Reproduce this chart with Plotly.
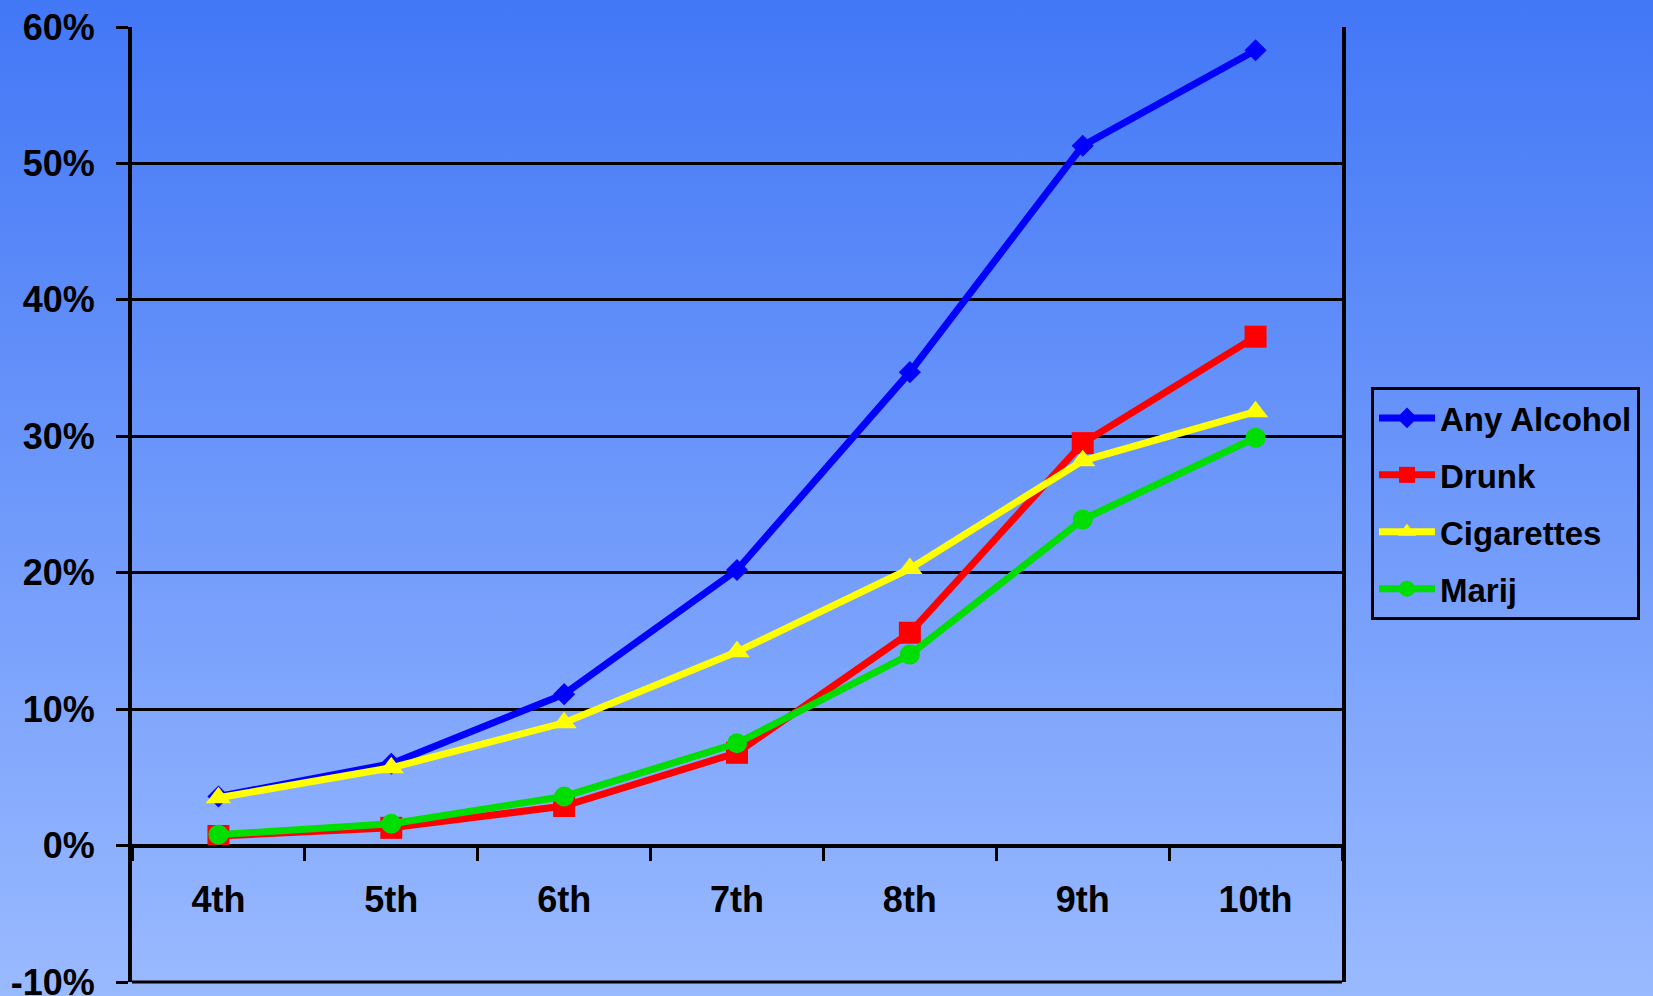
import base64
import plotly.graph_objects as go

grades = ["4th", "5th", "6th", "7th", "8th", "9th", "10th"]
any_alcohol = [3.6, 6.0, 11.1, 20.2, 34.7, 51.3, 58.3]
drunk = [0.7, 1.3, 2.9, 6.8, 15.6, 29.5, 37.3]
cigarettes = [3.5, 5.7, 9.0, 14.2, 20.3, 28.2, 31.8]
marij = [0.8, 1.6, 3.6, 7.5, 14.0, 23.9, 29.9]

y_tick_vals = [-10, 0, 10, 20, 30, 40, 50, 60]
y_tick_text = ["-10%", "0%", "10%", "20%", "30%", "40%", "50%", "60%"]

W, H = 1653, 996
ML, MR, MT, MB = 132, 311, 27, 14
PW, PH = W - ML - MR, H - MT - MB

FONT = "Arial, 'Liberation Sans', sans-serif"

series = [
    ("Any Alcohol", any_alcohol, "#0000ff", "diamond", 17),
    ("Drunk", drunk, "#ff0000", "square", 22),
    ("Cigarettes", cigarettes, "#ffff00", "triangle-up", 22),
    ("Marij", marij, "#00dd00", "circle", 20),
]

fig = go.Figure()
for i, (name, vals, col, sym, sz) in enumerate(series):
    fig.add_trace(go.Scatter(
        x=grades, y=vals, name=name, mode="lines+markers",
        legendgroup=f"g{i}",
        line=dict(color=col, width=7),
        marker=dict(color=col, symbol=sym, size=sz, line=dict(width=0)),
    ))

svg = (
    f'<svg xmlns="http://www.w3.org/2000/svg" width="{W}" height="{H}" '
    f'viewBox="0 0 {W} {H}" preserveAspectRatio="none">'
    '<defs><linearGradient id="g" x1="0" y1="0" x2="0" y2="1">'
    '<stop offset="0" stop-color="#4277f6"/>'
    '<stop offset="1" stop-color="#9abaff"/>'
    '</linearGradient></defs>'
    f'<rect x="0" y="0" width="{W}" height="{H}" fill="url(#g)"/></svg>'
)
uri = "data:image/svg+xml;base64," + base64.b64encode(svg.encode()).decode()

fig.add_layout_image(dict(
    source=uri, xref="paper", yref="paper",
    x=-ML / PW, y=1 + MT / PH, sizex=W / PW, sizey=H / PH,
    xanchor="left", yanchor="top", sizing="stretch", layer="below",
))

# bottom frame edge of the plot area (the -10% gridline)
fig.add_shape(type="line", xref="x domain", yref="y domain",
              x0=0, x1=1, y0=0, y1=0, line=dict(color="black", width=3),
              layer="above")

fig.update_layout(
    width=W, height=H,
    margin=dict(l=ML, r=MR, t=MT, b=MB, pad=0, autoexpand=False),
    paper_bgcolor="#7097f8",
    plot_bgcolor="rgba(0,0,0,0)",
    font=dict(family=FONT, color="black"),
    showlegend=True,
    legend=dict(
        x=(1371 - ML) / PW, y=(H - MB - 387) / PH,
        xanchor="left", yanchor="top",
        bgcolor="rgba(0,0,0,0)", bordercolor="black", borderwidth=3,
        font=dict(family=FONT, size=33, color="black", weight="bold"),
        tracegroupgap=11, traceorder="grouped", itemwidth=56,
    ),
    xaxis=dict(
        type="category", range=[-0.5, 6.5], automargin=False,
        anchor="free", position=1 / 7, side="bottom",
        tickson="boundaries", ticks="outside", ticklen=13, tickwidth=3,
        tickcolor="black", showline=True, linecolor="black", linewidth=3,
        showgrid=False, zeroline=False,
        tickfont=dict(family=FONT, size=36, color="black", weight="bold"),
        ticklabelstandoff=21,
    ),
    yaxis=dict(
        range=[-10, 60], automargin=False,
        tickmode="array", tickvals=y_tick_vals, ticktext=y_tick_text,
        ticks="outside", ticklen=12, tickwidth=3, tickcolor="black",
        showline=True, linecolor="black", linewidth=4, mirror=True,
        showgrid=True, gridcolor="black", gridwidth=3,
        zeroline=False, ticklabeloverflow="allow",
        tickfont=dict(family=FONT, size=36, color="black", weight="bold"),
        ticklabelstandoff=14,
    ),
)

fig.write_html("out.html", config={"displayModeBar": False},
               post_script="document.body.style.margin='0';")
